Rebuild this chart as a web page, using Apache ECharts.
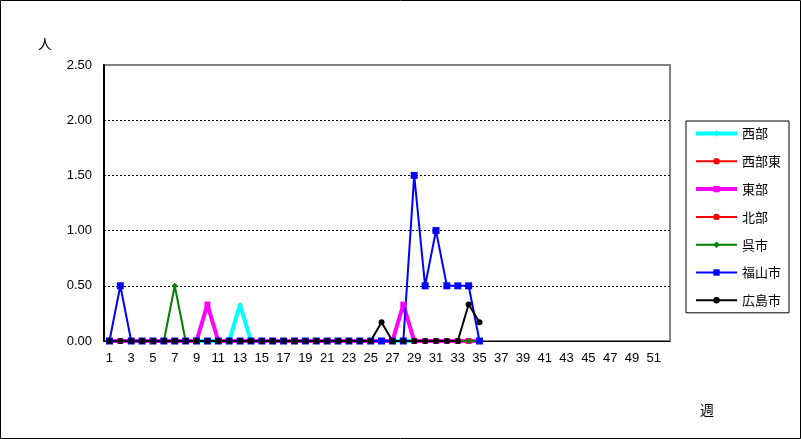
<!DOCTYPE html>
<html><head><meta charset="utf-8">
<script src="https://cdn.jsdelivr.net/npm/echarts@6/dist/echarts.min.js"></script>
<style>html,body{margin:0;padding:0;background:#fff}#c{width:801px;height:439px}</style>
</head><body><div id="c"></div>
<script>
const weeks = Array.from({length:52},(_,i)=>String(i+1));
const yTicks = ['0.00','0.50','1.00','1.50','2.00','2.50'];
const seriesNames = ['西部','西部東','東部','北部','呉市','福山市','広島市'];
const seibu      = [0,0,0,0,0,0,0,0,0,0,0,0,0.33,0,0,0,0,0,0,0,0,0,0,0,0,0,0,0,0,0,0,0,0,0,0];
const seibuHigashi=[0,0,0,0,0,0,0,0,0,0,0,0,0,0,0,0,0,0,0,0,0,0,0,0,0,0,0,0,0,0,0,0,0,0,0];
const toubu      = [0,0,0,0,0,0,0,0,0,0.33,0,0,0,0,0,0,0,0,0,0,0,0,0,0,0,0,0,0.33,0,0,0,0,0,0,0];
const hokubu     = [0,0,0,0,0,0,0,0,0,0,0,0,0,0,0,0,0,0,0,0,0,0,0,0,0,0,0,0,0,0,0,0,0,0,0];
const kure       = [0,0,0,0,0,0,0.5,0,0,0,0,0,0,0,0,0,0,0,0,0,0,0,0,0,0,0,0,0,0,0,0,0,0,0,0];
const fukuyama   = [0,0.5,0,0,0,0,0,0,0,0,0,0,0,0,0,0,0,0,0,0,0,0,0,0,0,0,0,0,1.5,0.5,1.0,0.5,0.5,0.5,0];
const hiroshima  = [0,0,0,0,0,0,0,0,0,0,0,0,0,0,0,0,0,0,0,0,0,0,0,0,0,0.17,0,0,0,0,0,0,0,0.33,0.17];

const F = '"Noto Sans CJK JP", "Liberation Sans", sans-serif';
const NF = '"Liberation Sans", sans-serif';
const styles = [
  ['#00FFFF', 4, 'diamond', 5],
  ['#FF0000', 2, 'circle', 4],
  ['#FF00FF', 4, 'rect', 6],
  ['#FF0000', 2, 'circle', 6],
  ['#008000', 2, 'diamond', 6],
  ['#0000FF', 2, 'rect', 7],
  ['#000000', 2, 'circle', 6]
];
const datas = [seibu, seibuHigashi, toubu, hokubu, kure, fukuyama, hiroshima];
const series = seriesNames.map((n,i)=>({
  name:n, type:'line', data:datas[i], symbol:styles[i][2], symbolSize:styles[i][3], showSymbol:true,
  lineStyle:{width:styles[i][1], color:styles[i][0]}, itemStyle:{color:styles[i][0]}, animation:false
}));
const legendData = seriesNames.map((n,i)=>({name:n, lineStyle:{width:styles[i][1], color:styles[i][0]}, itemStyle:{color:styles[i][0]}}));

const chart = echarts.init(document.getElementById('c'));
chart.setOption({
  animation:false,
  textStyle:{fontFamily:F},
  grid:{left:104, right:131, top:65, bottom:98, show:true, borderColor:'#808080', borderWidth:2},
  graphic:[{type:'rect', shape:{x:0.5,y:0.5,width:800,height:438}, style:{fill:'none',stroke:'#000',lineWidth:1}, silent:true}],
  xAxis:{type:'category', data:weeks, boundaryGap:true, name:'週', nameLocation:'end',
    nameGap:0, nameTextStyle:{color:'#000', fontSize:14, padding:[62,0,0,30], align:'left', verticalAlign:'top', fontFamily:F},
    axisLine:{lineStyle:{color:'#000', width:1}},
    axisTick:{inside:true, length:4, interval:0, lineStyle:{color:'#000'}},
    axisLabel:{interval:1, color:'#000', fontSize:13, margin:11, fontFamily:NF},
    splitLine:{show:false}},
  yAxis:{type:'value', min:0, max:2.5, interval:0.5, name:'人',
    nameTextStyle:{color:'#000', fontSize:14, padding:[0,118,2,0], fontFamily:F}, nameGap:12,
    axisLine:{show:true, lineStyle:{color:'#000', width:2}},
    axisTick:{show:false},
    axisLabel:{color:'#000', fontSize:13, margin:12, fontFamily:NF,
      formatter:(v)=>yTicks[Math.round(v/0.5)]},
    splitLine:{show:true, showMinLine:false, showMaxLine:false, lineStyle:{color:'#000', type:[2,2], width:1}}},
  legend:{orient:'vertical', left:686, top:121, width:104, padding:[6,8,6,8], itemGap:14.8,
    itemWidth:41, itemHeight:8, borderColor:'#000', borderWidth:1,
    textStyle:{color:'#000', fontSize:13, fontFamily:F},
    data:legendData},
  series
});
</script></body></html>
